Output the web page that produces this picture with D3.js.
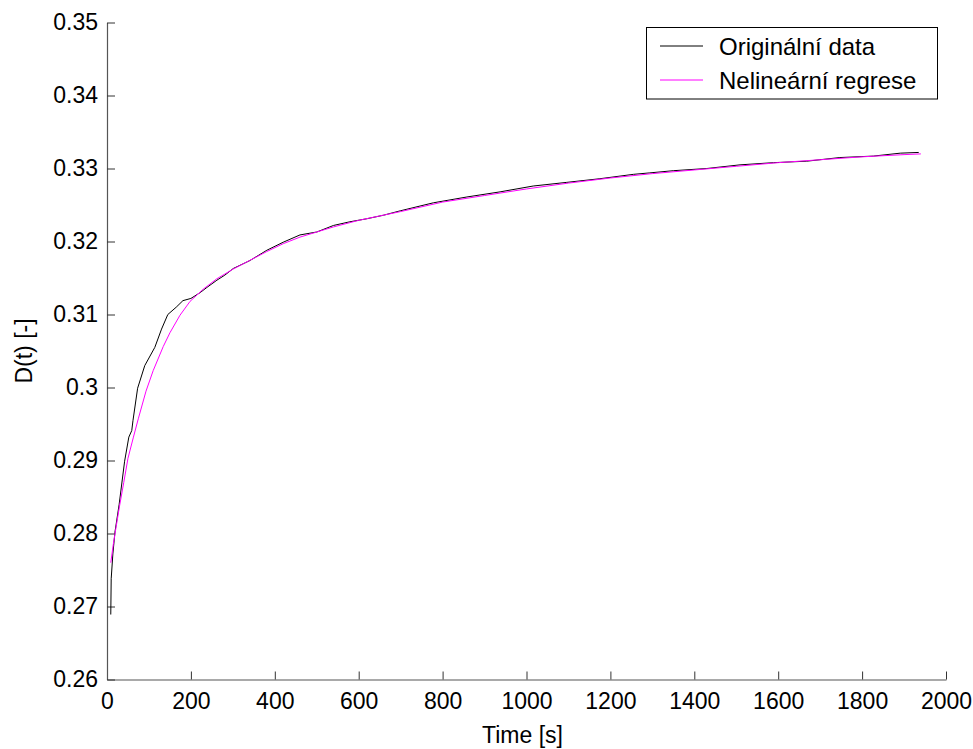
<!DOCTYPE html>
<html>
<head>
<meta charset="utf-8">
<script src="https://cdn.jsdelivr.net/npm/d3@7"></script>
<style>
  html, body { margin: 0; padding: 0; background: #fff; }
  svg text { font-family: "Liberation Sans", Arial, Helvetica, sans-serif; }
</style>
</head>
<body>
<svg id="chart" width="973" height="749"></svg>
<script>
// ---- data ----
const origTime  = [9, 10, 14, 19, 29, 42, 52, 59, 62, 73, 90, 114, 130, 145, 165, 181, 200, 222, 238, 262, 281, 301, 341, 381, 420, 460, 500, 540, 579, 618, 659, 699, 778, 858, 937, 1016, 1096, 1175, 1255, 1294, 1350, 1430, 1509, 1589, 1668, 1747, 1827, 1891, 1935];
const origValue = [0.2689, 0.2738, 0.2772, 0.2802, 0.2840, 0.2899, 0.2932, 0.2941, 0.2955, 0.2999, 0.3030, 0.3055, 0.3080, 0.3100, 0.3110, 0.3119, 0.3122, 0.3130, 0.3137, 0.3147, 0.3154, 0.3163, 0.3174, 0.3188, 0.3199, 0.3209, 0.3213, 0.3222, 0.3227, 0.3231, 0.3236, 0.3242, 0.3253, 0.3261, 0.3268, 0.3276, 0.3281, 0.3286, 0.3292, 0.3294, 0.3297, 0.3300, 0.3305, 0.3308, 0.3310, 0.3315, 0.3317, 0.3321, 0.3322];

const fitTime  = [9, 15, 22, 30, 40, 50, 63, 75, 93, 110, 134, 150, 174, 198, 230, 262, 300, 340, 380, 420, 460, 500, 540, 600, 700, 800, 900, 1000, 1100, 1200, 1300, 1400, 1500, 1600, 1700, 1800, 1900, 1940];
const fitValue = [0.2760, 0.2785, 0.2810, 0.2838, 0.2870, 0.2903, 0.2932, 0.2958, 0.2995, 0.3023, 0.3056, 0.3075, 0.3099, 0.3118, 0.3135, 0.3149, 0.3162, 0.3174, 0.3186, 0.3197, 0.3206, 0.3213, 0.3220, 0.3229, 0.3241, 0.3254, 0.3263, 0.3272, 0.3280, 0.3287, 0.3293, 0.3298, 0.3303, 0.3308, 0.3312, 0.3316, 0.3319, 0.3320];

const xTicks = [0, 200, 400, 600, 800, 1000, 1200, 1400, 1600, 1800, 2000];
const yTicks = [0.26, 0.27, 0.28, 0.29, 0.30, 0.31, 0.32, 0.33, 0.34, 0.35];
const yTickLabels = ["0.26", "0.27", "0.28", "0.29", "0.3", "0.31", "0.32", "0.33", "0.34", "0.35"];
const seriesNames = ["Originální data", "Nelineární regrese"];
const seriesColors = ["#000000", "#ff00ff"];
const xTitle = "Time [s]";
const yTitle = "D(t) [-]";

// ---- layout ----
const L = 107, R = 946, T = 22.5, B = 679.5;
const FS = "23px";
const svg = d3.select("#chart");
const x = d3.scaleLinear().domain([0, 2000]).range([L, R]);
const y = d3.scaleLinear().domain([0.26, 0.35]).range([B, T]);

// axes
const xAxis = d3.axisBottom(x).tickValues(xTicks).tickSizeInner(-8).tickSizeOuter(0).tickPadding(13).tickFormat(d3.format("d"));
const yAxis = d3.axisLeft(y).tickValues(yTicks).tickSizeInner(-8).tickSizeOuter(0).tickPadding(9)
  .tickFormat((d, i) => yTickLabels[i]);

const gx = svg.append("g").attr("transform", `translate(0,${B})`).call(xAxis);
const gy = svg.append("g").attr("transform", `translate(${L},0)`).call(yAxis);
[gx, gy].forEach(g => {
  g.attr("font-family", null).attr("font-size", null);
  g.selectAll("path.domain").attr("stroke", "#555").attr("stroke-width", 1.2);
  g.selectAll(".tick line").attr("stroke", "#333").attr("stroke-width", 1);
  g.selectAll(".tick text").attr("fill", "#000").style("font-size", FS);
});

// lines
const line = d3.line().x(d => x(d[0])).y(d => y(d[1]));
const origData = origTime.map((t, i) => [t, origValue[i]]);
const fitData = fitTime.map((t, i) => [t, fitValue[i]]);

svg.append("path").datum(origData).attr("d", line)
  .attr("fill", "none").attr("stroke", seriesColors[0]).attr("stroke-width", 1);
svg.append("path").datum(fitData).attr("d", line)
  .attr("fill", "none").attr("stroke", seriesColors[1]).attr("stroke-width", 1);

// axis titles
svg.append("text").attr("x", 522.5).attr("y", 743).attr("text-anchor", "middle")
  .style("font-size", FS).text(xTitle);
svg.append("text").attr("transform", `translate(32,${(T + B) / 2}) rotate(-90)`)
  .attr("text-anchor", "middle").style("font-size", FS).text(yTitle);

// legend
const lg = svg.append("g");
lg.append("rect").attr("x", 646.5).attr("y", 27.5).attr("width", 291).attr("height", 71.5)
  .attr("fill", "#fff").attr("stroke", "#000").attr("stroke-width", 1);
seriesNames.forEach((name, i) => {
  const yy = 46 + i * 34;
  lg.append("line").attr("x1", 660).attr("x2", 703).attr("y1", yy).attr("y2", yy)
    .attr("stroke", seriesColors[i]).attr("stroke-width", 1);
  lg.append("text").attr("x", 719).attr("y", yy + 9).style("font-size", "24px").text(name);
});
</script>
</body>
</html>
